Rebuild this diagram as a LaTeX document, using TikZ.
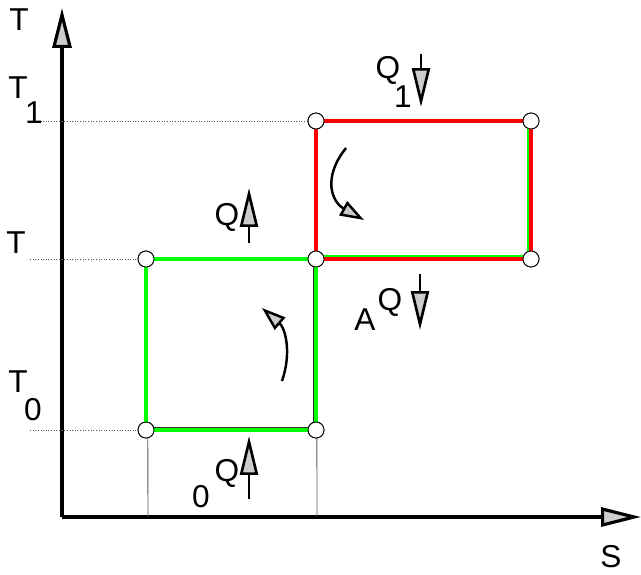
\documentclass[tikz,border=0pt]{standalone}
\usepackage{fontspec}
\setmainfont{Liberation Sans}
\usetikzlibrary{arrows.meta,positioning}

\begin{document}
\begin{tikzpicture}[x=0.02cm, y=-0.02cm,
    axis/.style={line width=1.8pt, -{Triangle[length=0.8cm, width=0.38cm, fill=gray!40]}},
    heat/.style={line width=1.5pt, -{Triangle[length=0.78cm, width=0.36cm, fill=gray!40]}},
    turn/.style={line width=1.4pt, -{Triangle[length=0.48cm, width=0.32cm, fill=gray!40]}},
    guide/.style={gray!70!black, line width=0.5pt},
    hot/.style={red, line width=1.8pt},
    cold/.style={green, line width=1.8pt},
    state/.style={draw, circle, fill=white, line width=0.5pt, minimum size=0.32cm, inner sep=0pt},
    lbl/.style={font=\fontsize{18}{20}\selectfont, inner sep=0pt}
]
    \useasboundingbox (0,0) rectangle (641,574);

    % Axes
    \coordinate (O) at (62,517);
    \coordinate (Ytip) at (62,8);
    \coordinate (Xtip) at (641,517);
    \draw[axis] (O) -- (Ytip);
    \draw[axis] (O) -- (Xtip);
    \node[lbl] (Tax) at (19,20) {T};
    \node[lbl] (Sax) at (611,557) {S};

    % States
    \node[state] (p1) at (146,430) {};
    \node[state] (p2) at (316,430) {};
    \node[state] (p3) at (146,259) {};
    \node[state] (p4) at (316,259) {};
    \node[state] (p5) at (531,259) {};
    \node[state] (p6) at (316,121) {};
    \node[state] (p7) at (531,121) {};

    % Guide lines
    \coordinate (g1) at (30,121);
    \coordinate (g2) at (30,259);
    \coordinate (g3) at (30,430);
    \coordinate (f1) at (148,517);
    \coordinate (f2) at (317,517);
    \draw[guide, densely dotted] (g1) -- (p6.center);
    \draw[guide, densely dotted] (g2) -- (p3.center);
    \draw[guide, densely dotted] (g3) -- (p1.center);
    \draw[guide] ([xshift=1pt]p1.center) -- (f1);
    \draw[guide] ([xshift=0.5pt]p2.center) -- (f2);

    % Cycles
    \draw[gray!40!black, line width=0.6pt] ([yshift=1.6pt]p1.center) -- ([xshift=-1.6pt,yshift=1.6pt]p2.center) -- ([xshift=-1.6pt]p4.center);
    \draw[cold] (p1.center) -- (p2.center) -- (p4.center) -- (p3.center) -- cycle;
    \draw[cold] ([yshift=1.4pt]p4.center) -- ([xshift=-1.4pt,yshift=1.4pt]p5.center) -- ([xshift=-1.4pt]p7.center);
    \draw[hot] (p6.center) -- (p7.center) -- (p5.center) -- (p4.center) -- cycle;
    \foreach \p in {p1,p2,p3,p4,p5,p6,p7}
        \node[state] at (\p) {};

    % Temperature labels
    \node[lbl] (T1) at (18,88) {T};
    \node[lbl] (T1i) at (34,113) {1};
    \node[lbl] (Tm) at (16,243) {T};
    \node[lbl] (T0) at (18,382) {T};
    \node[lbl] (T0i) at (33,410) {0};

    % Turning arrows
    \coordinate (r1) at (346,148);
    \coordinate (r2) at (364,220);
    \draw[turn] (r1) .. controls (322,178) and (332,202) .. (r2);
    \coordinate (c1) at (282,381);
    \coordinate (c2) at (262,308);
    \draw[turn] (c1) .. controls (292,352) and (285,328) .. (c2);

    % Heat flows
    \node[lbl] (Q1) at (388,70) {Q};
    \node[lbl] (Q1i) at (403,97) {1};
    \coordinate (q1a) at (421,54);
    \coordinate (q1b) at (421,107);
    \draw[heat] (q1a) -- (q1b);

    \node[lbl] (Qm) at (227,217) {Q};
    \coordinate (qma) at (249,243);
    \coordinate (qmb) at (249,188);
    \draw[heat] (qma) -- (qmb);

    \node[lbl] (QA) at (390,302) {Q};
    \node[lbl] (QAi) at (365,320) {A};
    \coordinate (qaa) at (420,274);
    \coordinate (qab) at (420,330);
    \draw[heat] (qaa) -- (qab);

    \node[lbl] (Q0) at (227,473) {Q};
    \node[lbl] (Q0i) at (201,497) {0};
    \coordinate (q0a) at (249,499);
    \coordinate (q0b) at (249,436);
    \draw[heat] (q0a) -- (q0b);
\end{tikzpicture}
\end{document}
